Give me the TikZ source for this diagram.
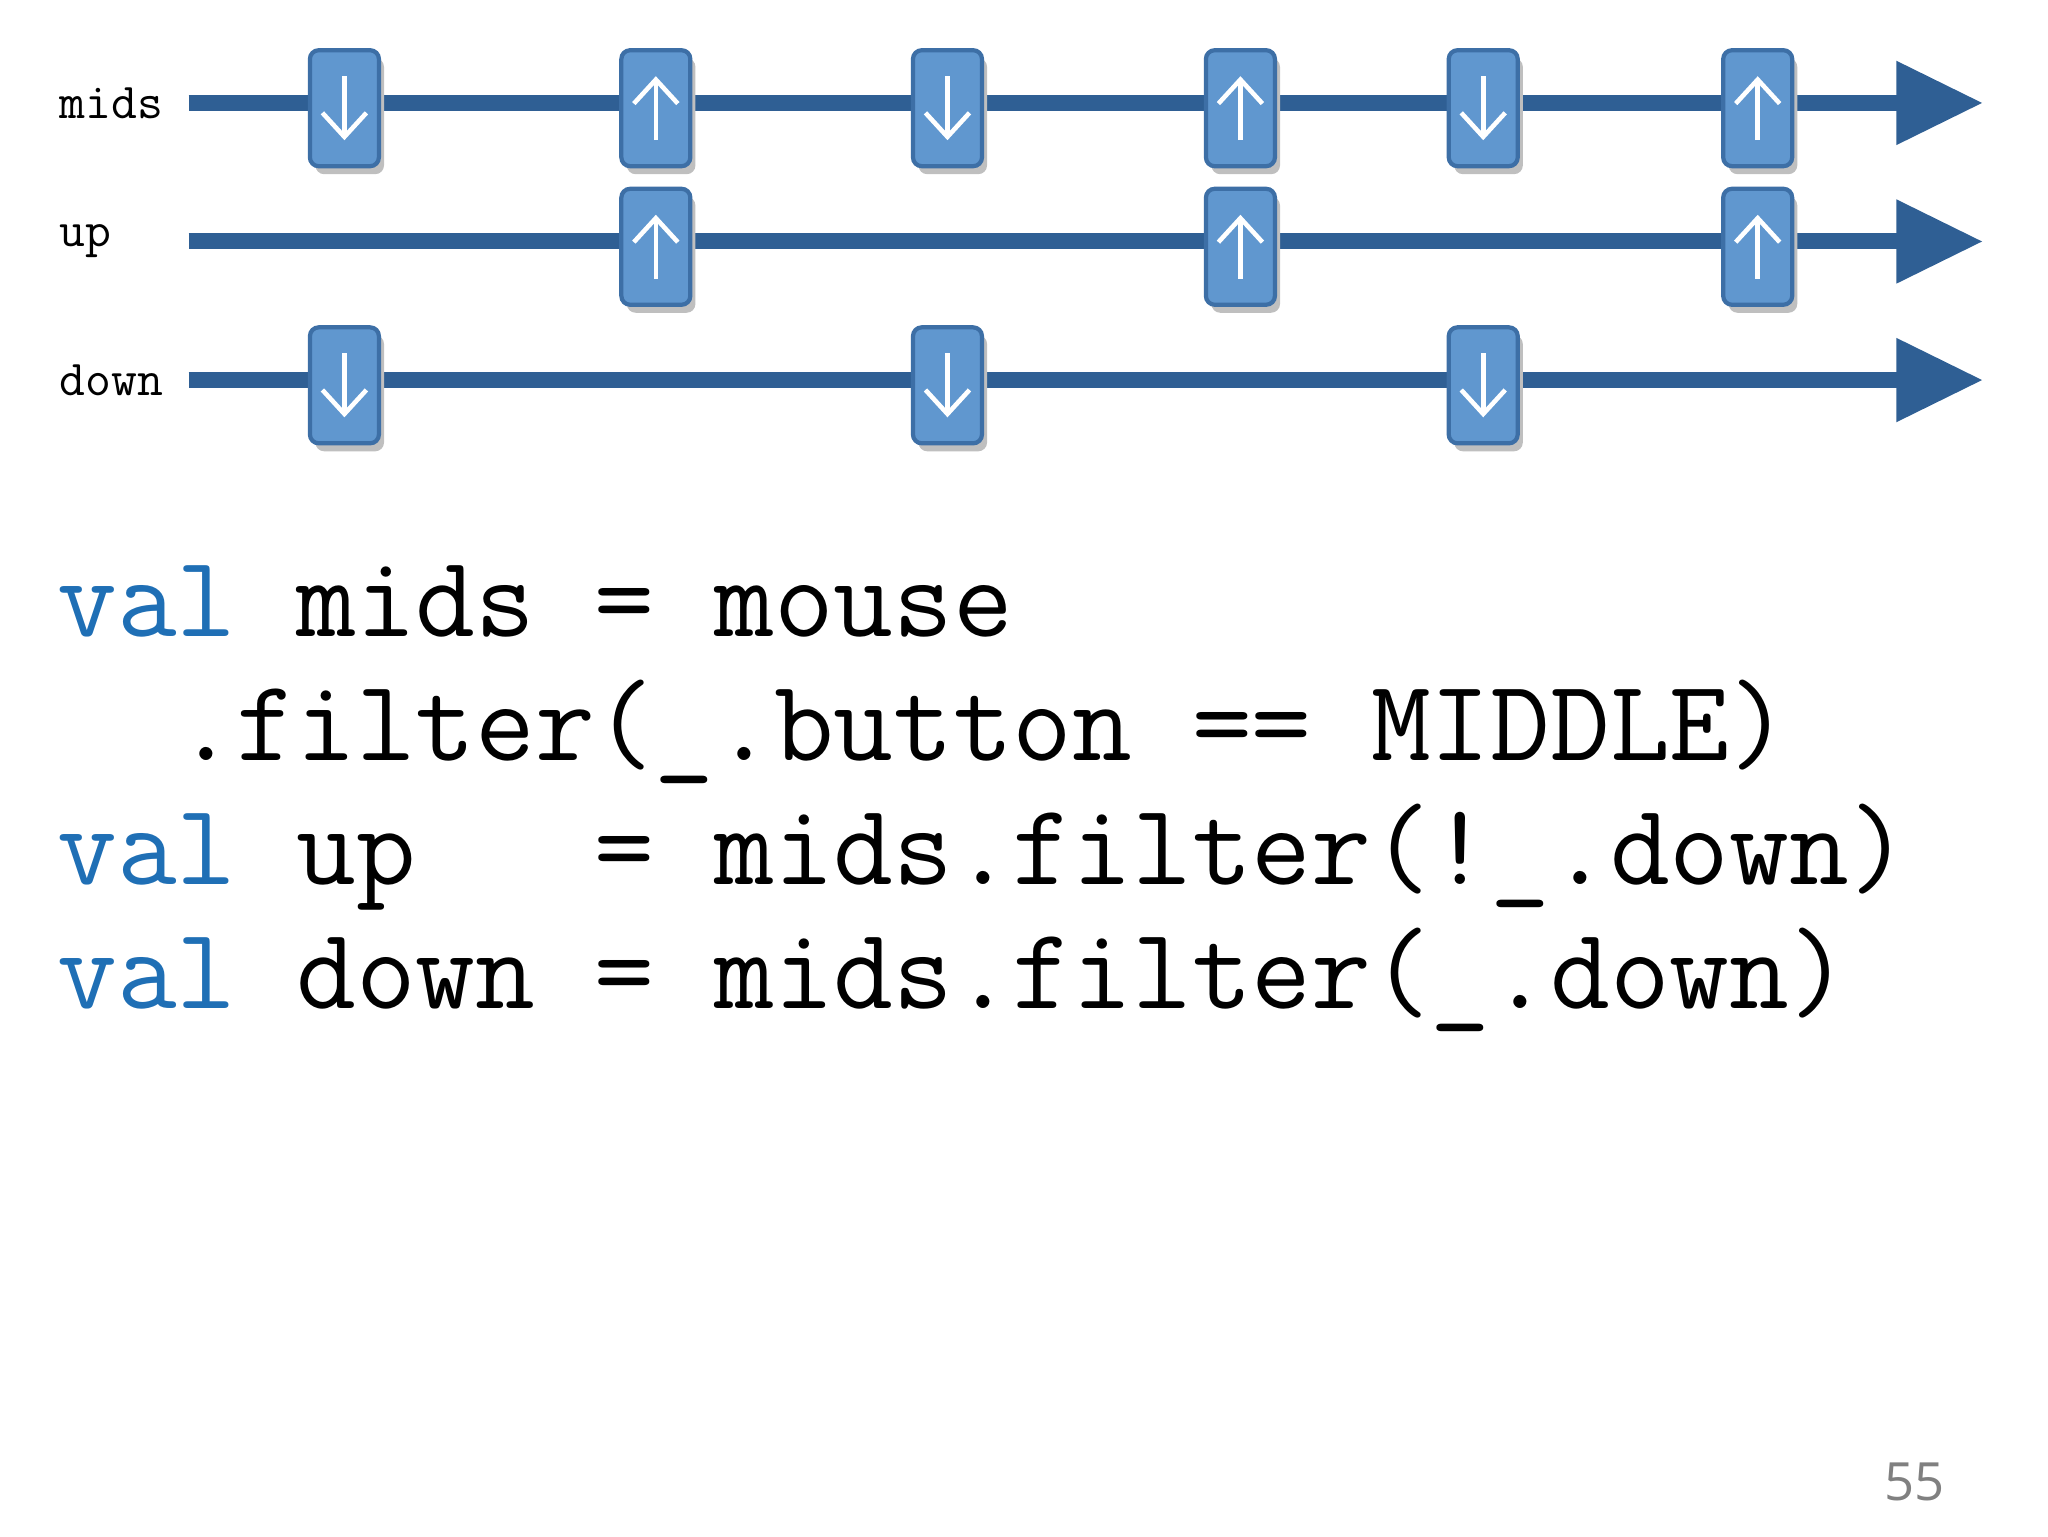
\documentclass[tikz,border=0pt]{standalone}
\usepackage{fontspec}
\setsansfont{Open Sans}
\usetikzlibrary{arrows.meta}
\definecolor{linec}{HTML}{2F5F94}
\definecolor{boxf}{HTML}{6097CF}
\definecolor{boxd}{HTML}{3D6FA6}
\definecolor{kw}{HTML}{1F6FB5}
\tikzset{
 ev/.style={draw=boxd,line width=1.2pt,fill=boxf,rounded corners=2.5pt,minimum width=0.69cm,minimum height=1.16cm,inner sep=0pt},
 tl/.style={line width=1.6mm,linec},
 lab/.style={font=\ttfamily\fontsize{14.3}{16}\selectfont,anchor=west},
 code/.style={font=\ttfamily\fontsize{33}{35}\selectfont,anchor=base west,inner sep=0pt},
 tip/.style={white,line width=1.3pt,-{Straight Barb[length=2.4mm,width=4.4mm]}}
}
\newcommand{\evbox}[4]{% name, x, y, dir(1 up,-1 down)
 \fill[black!25,rounded corners=2.5pt] (#2+4,#3+6) ++(-26,-44) rectangle ++(52,88);
 \node[ev] (#1) at (#2,#3) {};
 \draw[tip] ([yshift=-#4*0.32cm]#1.center) -- ([yshift=#4*0.32cm]#1.center);
}
\begin{document}
\begin{tikzpicture}[x=0.0132cm,y=-0.0132cm]
\useasboundingbox (0,0) rectangle (1552,1164);
\foreach \n/\y/\t in {m/78/mids,u/183/up,d/288/down}{
 \node[lab] (l\n) at (36,\y) {\t};
 \coordinate (s\n) at (143,\y);
 \coordinate (e\n) at (1440,\y);
 \draw[tl] (s\n) -- (e\n);
 \fill[linec] (1437,\y-32) -- (1502,\y) -- (1437,\y+32) -- cycle;
}
\evbox{m1}{261}{82}{-1}
\evbox{m2}{497}{82}{1}
\evbox{m3}{718}{82}{-1}
\evbox{m4}{940}{82}{1}
\evbox{m5}{1124}{82}{-1}
\evbox{m6}{1332}{82}{1}
\evbox{u1}{497}{187}{1}
\evbox{u2}{940}{187}{1}
\evbox{u3}{1332}{187}{1}
\evbox{d1}{261}{292}{-1}
\evbox{d2}{718}{292}{-1}
\evbox{d3}{1124}{292}{-1}
\node[code] (c1) at (43,482) {\textcolor{kw}{val} mids = mouse};
\node[code] (c2) at (43,576) {\ \ .filter(\_.button == MIDDLE)};
\node[code] (c3) at (43,670) {\textcolor{kw}{val} up~~~= mids.filter(!\_.down)};
\node[code] (c4) at (43,764) {\textcolor{kw}{val} down = mids.filter(\_.down)};
\node[font=\sffamily\fontsize{15}{18}\selectfont,text=black!50] (pg) at (1451,1123) {55};
\end{tikzpicture}
\end{document}
